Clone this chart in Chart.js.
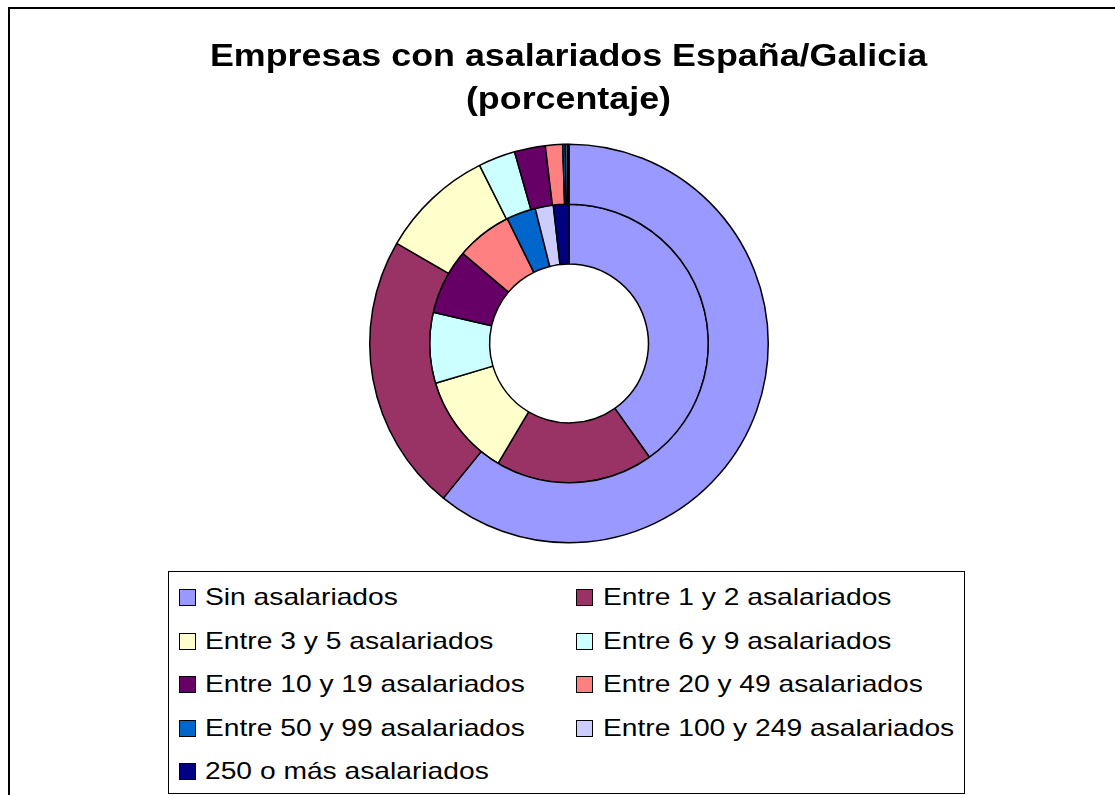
<!DOCTYPE html>
<html>
<head>
<meta charset="utf-8">
<script src="https://cdn.jsdelivr.net/npm/chart.js@4/dist/chart.umd.min.js"></script>
<style>
  html, body { margin: 0; padding: 0; background: #fff; overflow: hidden; }
  body { width: 1115px; height: 795px; position: relative; font-family: "Liberation Sans", Arial, sans-serif; }
  #frame { position: absolute; left: 8px; top: 7px; width: 1200px; height: 900px;
           border-left: 2px solid #000; border-top: 2px solid #000; }
  #wrap { position: absolute; left: 0; top: 0; width: 1115px; height: 795px; }
  .titulo { position: absolute; left: 0; width: 1137px; text-align: center; white-space: nowrap;
            font-weight: bold; font-size: 32px; line-height: 43px; color: #000;
            transform: scaleX(1.12); transform-origin: 568.5px 0; }
  #leyenda { position: absolute; left: 168px; top: 571px; width: 795px; height: 221px;
             border: 1px solid #000; background: #fff; }
  .item { position: absolute; font-size: 24px; color: #000; white-space: nowrap; line-height: 26px;
          transform: scaleX(1.175); transform-origin: 0 0; }
  .caja { position: absolute; width: 15px; height: 15px; border: 1px solid #000; }
</style>
</head>
<body>
<div id="frame"></div>
<div id="wrap"><canvas id="grafico"></canvas></div>
<div class="titulo" style="top: 34px">Empresas con asalariados España/Galicia</div>
<div class="titulo" style="top: 77px">(porcentaje)</div>
<div id="leyenda"></div>
<script>
// categorías (tramos de asalariados)
const categorias = [
    'Sin asalariados',
    'Entre 1 y 2 asalariados',
    'Entre 3 y 5 asalariados',
    'Entre 6 y 9 asalariados',
    'Entre 10 y 19 asalariados',
    'Entre 20 y 49 asalariados',
    'Entre 50 y 99 asalariados',
    'Entre 100 y 249 asalariados',
    '250 o más asalariados'
];
// anillo exterior
const galicia = [60.8, 22.5, 9.2, 3.0, 2.5, 1.4, 0.2, 0.17, 0.13];
// anillo interior
const espana = [40.2, 18.3, 11.9, 8.2, 7.6, 6.5, 3.4, 2.1, 1.8];
const colores = ['#9999FF', '#993366', '#FFFFCC', '#CCFFFF', '#660066', '#FF8080', '#0066CC', '#CCCCFF', '#000080'];

function dataset(label, valores) {
    return {
        label: label,
        data: valores,
        backgroundColor: colores,
        borderColor: '#000',
        borderWidth: 1.5,
        hoverBorderWidth: 1.5,
        hoverOffset: 0,
        offset: 0
    };
}

const ctx = document.getElementById('grafico').getContext('2d');
window.grafico = new Chart(ctx, {
    type: 'doughnut',
    data: {
        labels: categorias,
        datasets: [dataset('Galicia', galicia), dataset('España', espana)]
    },
    options: {
        responsive: true,
        maintainAspectRatio: false,
        animation: false,
        cutout: '39.85%',
        layout: { padding: { left: 369, top: 143.5, right: 346, bottom: 251.5 } },
        plugins: {
            legend: { display: false },
            title: { display: false },
            tooltip: { enabled: false }
        }
    }
});

// leyenda en dos columnas
const leyenda = document.getElementById('leyenda');
const filaBase = [33.5, 77, 120.5, 164, 207.5];
categorias.forEach((cat, i) => {
    const col = i % 2;
    const fila = Math.floor(i / 2);
    const caja = document.createElement('div');
    caja.className = 'caja';
    caja.style.background = colores[i];
    caja.style.left = (col ? 407 : 10) + 'px';
    caja.style.top = (filaBase[fila] - 16.5) + 'px';
    leyenda.appendChild(caja);
    const txt = document.createElement('div');
    txt.className = 'item';
    txt.textContent = cat;
    txt.style.left = (col ? 434 : 36) + 'px';
    txt.style.top = (filaBase[fila] - 21.3) + 'px';
    leyenda.appendChild(txt);
});
</script>
</body>
</html>
